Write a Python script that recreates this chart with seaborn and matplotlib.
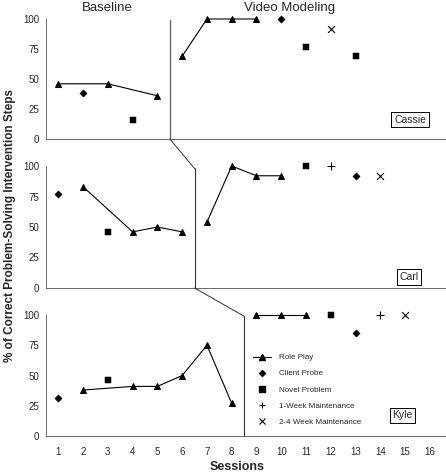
"""Multiple-baseline chart: role play, probes and maintenance across three clients."""

import matplotlib
matplotlib.use("Agg")
import matplotlib.pyplot as plt
import numpy as np
import pandas as pd
import seaborn as sns
from matplotlib.lines import Line2D
from matplotlib.patches import ConnectionPatch

# --- data -------------------------------------------------------------------
names = ["Cassie", "Carl", "Kyle"]
phase_change = [5.5, 6.5, 8.5]

cassie_role_base_x = [1, 3, 5]
cassie_role_base_y = [46, 46, 36]
cassie_role_vm_x = [6, 7, 8, 9]
cassie_role_vm_y = [69, 100, 100, 100]
cassie_probe_x = [2, 10]
cassie_probe_y = [38, 100]
cassie_novel_x = [4, 11, 13]
cassie_novel_y = [16, 77, 69]
cassie_maint1_x = []
cassie_maint1_y = []
cassie_maint2_x = [12]
cassie_maint2_y = [92]

carl_role_base_x = [2, 4, 5, 6]
carl_role_base_y = [83, 46, 50, 46]
carl_role_vm_x = [7, 8, 9, 10]
carl_role_vm_y = [54, 100, 92, 92]
carl_probe_x = [1, 13]
carl_probe_y = [77, 92]
carl_novel_x = [3, 11]
carl_novel_y = [46, 100]
carl_maint1_x = [12]
carl_maint1_y = [100]
carl_maint2_x = [14]
carl_maint2_y = [92]

kyle_role_base_x = [2, 4, 5, 6, 7, 8]
kyle_role_base_y = [38, 41, 41, 50, 75, 27]
kyle_role_vm_x = [9, 10, 11]
kyle_role_vm_y = [100, 100, 100]
kyle_probe_x = [1, 13]
kyle_probe_y = [31, 85]
kyle_novel_x = [3, 12]
kyle_novel_y = [46, 100]
kyle_maint1_x = [14]
kyle_maint1_y = [100]
kyle_maint2_x = [15]
kyle_maint2_y = [100]

sessions = list(range(1, 17))
yticks = [0, 25, 50, 75, 100]

panels = [
    dict(role=[(cassie_role_base_x, cassie_role_base_y), (cassie_role_vm_x, cassie_role_vm_y)],
         probe=(cassie_probe_x, cassie_probe_y), novel=(cassie_novel_x, cassie_novel_y),
         m1=(cassie_maint1_x, cassie_maint1_y), m2=(cassie_maint2_x, cassie_maint2_y)),
    dict(role=[(carl_role_base_x, carl_role_base_y), (carl_role_vm_x, carl_role_vm_y)],
         probe=(carl_probe_x, carl_probe_y), novel=(carl_novel_x, carl_novel_y),
         m1=(carl_maint1_x, carl_maint1_y), m2=(carl_maint2_x, carl_maint2_y)),
    dict(role=[(kyle_role_base_x, kyle_role_base_y), (kyle_role_vm_x, kyle_role_vm_y)],
         probe=(kyle_probe_x, kyle_probe_y), novel=(kyle_novel_x, kyle_novel_y),
         m1=(kyle_maint1_x, kyle_maint1_y), m2=(kyle_maint2_x, kyle_maint2_y)),
]

sns.set_style("white")
plt.rcParams["font.family"] = ["Liberation Sans", "DejaVu Sans"]

fig = plt.figure(figsize=(4.46, 4.75), dpi=100)
# [left, bottom, width, height] in figure fractions
boxes = [
    [0.103, 0.7074, 0.897, 0.2526],
    [0.103, 0.3937, 0.897, 0.2568],
    [0.103, 0.0821, 0.897, 0.2547],
]
name_pos = [(15.2, 16), (15.15, 9), (14.9, 17)]
axes = []
spine_color = "#555555"

for i, (box, panel) in enumerate(zip(boxes, panels)):
    ax = fig.add_axes(box)
    axes.append(ax)

    for seg_x, seg_y in panel["role"]:
        seg = pd.DataFrame({"x": seg_x, "y": seg_y})
        sns.lineplot(data=seg, x="x", y="y", ax=ax, color="black", lw=0.8,
                     marker="^", markersize=5, markeredgecolor="black", clip_on=False)

    specs = [("probe", "D", 14, None), ("novel", "s", 20, None),
             ("m1", "+", 28, 0.8), ("m2", "x", 24, 0.8)]
    for key, marker, size, lw in specs:
        px, py = panel[key]
        if not px:
            continue
        pts = pd.DataFrame({"x": px, "y": py})
        kw = dict(linewidth=lw) if lw else dict(edgecolor="black")
        sns.scatterplot(data=pts, x="x", y="y", ax=ax, marker=marker, s=size,
                        color="black", clip_on=False, zorder=3, **kw)

    ax.set_xlim(0.5, 16.65)
    ax.set_ylim(0, 100)
    ax.set_yticks(yticks)
    ax.set_xticks(sessions)
    ax.set_xticks(np.arange(0.5, 17, 1), minor=True)
    ax.tick_params(axis="x", which="major", length=0, labelsize=7, pad=8)
    ax.tick_params(axis="x", which="minor", length=3, width=0.6, color=spine_color, direction="out")
    ax.tick_params(axis="y", length=3, width=0.6, color=spine_color, labelsize=7, pad=2, direction="out")
    if i < 2:
        ax.set_xticklabels([])
    ax.set_xlabel("")
    ax.set_ylabel("")
    for side in ["top", "right"]:
        ax.spines[side].set_visible(False)
    for side in ["left", "bottom"]:
        ax.spines[side].set_color(spine_color)
        ax.spines[side].set_linewidth(0.6)
    ax.patch.set_alpha(0)

    ax.text(*name_pos[i], names[i], ha="center", va="center", fontsize=7.5,
            bbox=dict(boxstyle="square,pad=0.25", fc="white", ec="black", lw=0.7))

# phase change lines, stepping down across the panels
line_color = "#333333"
axes[0].plot([phase_change[0]] * 2, [0, 99], color="#666666", lw=1.0, clip_on=False)
axes[1].plot([phase_change[1]] * 2, [0, 98], color=line_color, lw=0.8, clip_on=False)
axes[2].plot([phase_change[2]] * 2, [0, 99], color=line_color, lw=0.8, clip_on=False)
for upper, lower in [(0, 1), (1, 2)]:
    top_y = 98 if lower == 1 else 99
    con = ConnectionPatch(xyA=(phase_change[upper], 0), coordsA=axes[upper].transData,
                          xyB=(phase_change[lower], top_y), coordsB=axes[lower].transData,
                          color=line_color, lw=0.7)
    fig.add_artist(con)

# legend in the bottom panel
handles = [
    Line2D([], [], color="black", lw=0.8, marker="^", markersize=4),
    Line2D([], [], color="black", lw=0, marker="D", markersize=3),
    Line2D([], [], color="black", lw=0, marker="s", markersize=4),
    Line2D([], [], color="black", lw=0, marker="+", markersize=5, markeredgewidth=0.8),
    Line2D([], [], color="black", lw=0, marker="x", markersize=4, markeredgewidth=0.8),
]
labels = ["Role Play", "Client Probe", "Novel Problem", "1-Week Maintenance", "2-4 Week Maintenance"]
axes[2].legend(handles, labels, loc="upper left", bbox_to_anchor=(0.5, 0.74), frameon=False,
               fontsize=5.8, handlelength=2.2, labelspacing=1.05, handletextpad=1.0)

fig.text(107 / 446, 1 - 8 / 475, "Baseline", ha="center", va="center", fontsize=9.5)
fig.text(290 / 446, 1 - 8 / 475, "Video Modeling", ha="center", va="center", fontsize=9.5)
fig.text(10 / 446, 1 - 225 / 475, "% of Correct Problem-Solving Intervention Steps",
         rotation=90, ha="center", va="center", fontsize=8.5, fontweight="bold")
fig.text(237 / 446, 1 - 467 / 475, "Sessions", ha="center", va="center",
         fontsize=9, fontweight="bold")

fig.savefig("out.png", dpi=100)
